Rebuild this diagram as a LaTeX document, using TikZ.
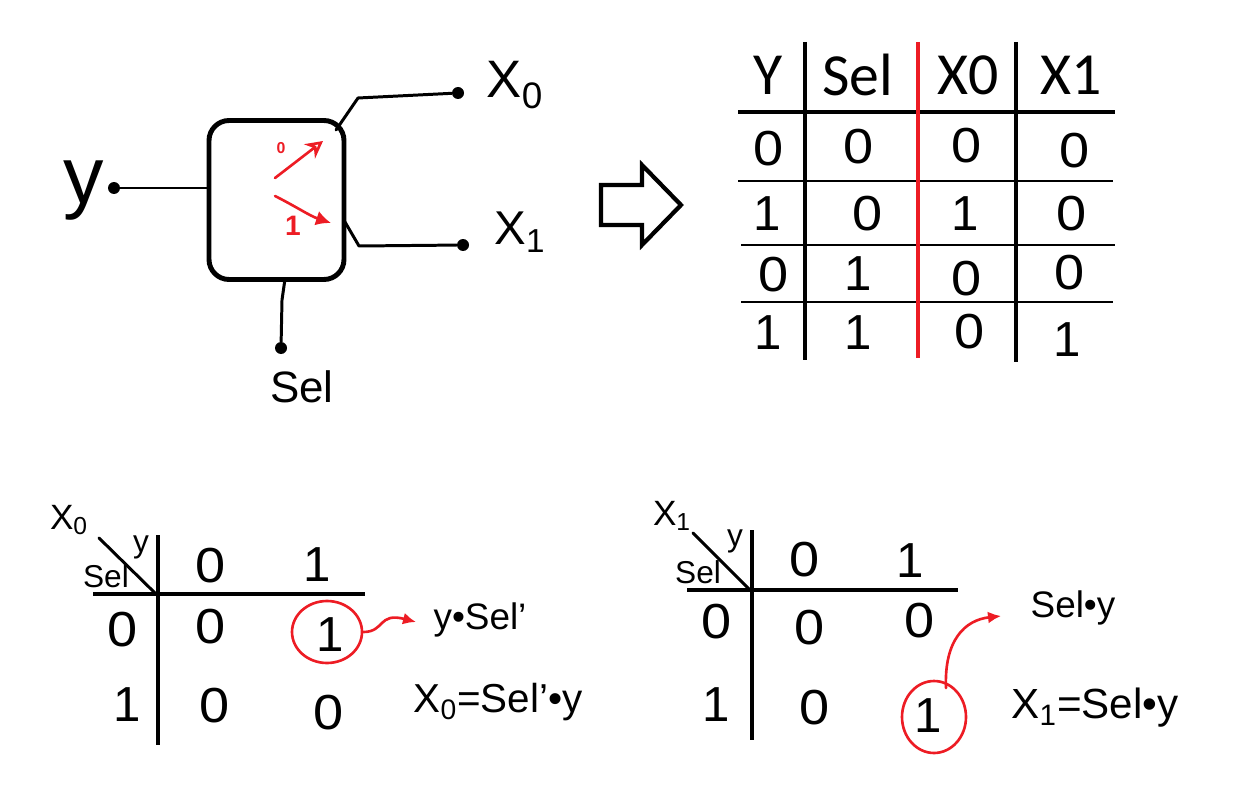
\documentclass[tikz,border=0pt]{standalone}
\usepackage{fontspec}
\setmainfont{Liberation Sans}
\newfontfamily\headfont{Carlito}
\usetikzlibrary{arrows.meta,shapes.geometric}
\definecolor{paintred}{RGB}{237,28,36}
\tikzset{
  thinline/.style={line width=1.7pt,line cap=round,line join=round},
  thickline/.style={line width=2.8pt},
  redline/.style={line width=1.5pt,color=paintred,line cap=round},
  termdot/.style={circle,fill=black,minimum size=0.24cm,inner sep=0pt},
  headtxt/.style={inner sep=0pt,font=\headfont\fontsize{34}{38}\selectfont},
  cellone/.style={inner sep=0pt,font=\fontsize{28}{31}\selectfont},
  cellzero/.style={inner sep=0pt,font=\fontsize{28}{31}\selectfont,xscale=1.1,transform shape},
  biglabel/.style={inner sep=0pt,font=\fontsize{30}{34}\selectfont},
  smalllabel/.style={inner sep=0pt,font=\fontsize{18}{22}\selectfont},
  eqlabel/.style={inner sep=0pt,font=\fontsize{23}{26}\selectfont},
}
\begin{document}
\begin{tikzpicture}[x=0.02cm,y=-0.02cm]
\useasboundingbox (0,0) rectangle (1250,787);

% block with its terminals
\node[draw,line width=2.8pt,rounded corners=0.4cm,minimum width=2.7cm,minimum height=3.18cm,inner sep=0pt] (mux) at (276.5,200) {};
\node[termdot] (ydot) at (114,188) {};
\node[termdot] (xzerodot) at (458,93) {};
\node[termdot] (xonedot) at (463,245) {};
\node[termdot] (seldot) at (281,348) {};
\coordinate (xzerostart) at (336,130);
\coordinate (xzerobend) at (358,98);
\coordinate (xonestart) at (345,222);
\coordinate (xonebend) at (359,246);
\coordinate (selstart) at (285,279);
\coordinate (selbend) at (282,300);
\draw[thinline] (ydot) -- (mux.west |- ydot);
\draw[thinline] (xzerostart) -- (xzerobend) -- (xzerodot);
\draw[thinline] (xonestart) -- (xonebend) -- (xonedot);
\draw[thinline] (selstart) -- (selbend) -- (seldot);
\node[inner sep=0pt,font=\fontsize{46}{50}\selectfont] (ylabel) at (84,191) {y};
\node[biglabel] (xzerolabel) at (515,85) {X\textsubscript{0}};
\node[biglabel,font=\fontsize{27}{30}\selectfont] (xonelabel) at (520,232) {X\textsubscript{1}};
\node[inner sep=0pt,font=\fontsize{25}{28}\selectfont] (sellabel) at (302,387) {Sel};

% switch inside the block
\coordinate (upfrom) at (275,178);
\coordinate (upto) at (323,141);
\coordinate (downfrom) at (275,196);
\coordinate (downto) at (331,223);
\draw[redline,-{Stealth[open,length=0.34cm,width=0.36cm]}] (upfrom) -- (upto);
\draw[redline,-{Latex[length=0.3cm,width=0.3cm]}] (downfrom) .. controls (295,206) and (310,216) .. (downto);
\node[inner sep=0pt,text=paintred,font=\bfseries\fontsize{9}{10}\selectfont] (swzero) at (281,148) {0};
\node[inner sep=0pt,text=paintred,font=\bfseries\fontsize{16}{18}\selectfont] (swone) at (293,226) {1};

% big arrow
\draw[line width=2.4pt,line join=miter] (601,185) -- (642,185) -- (642,165) -- (681,205) -- (642,245) -- (642,225) -- (601,225) -- cycle;

% truth table
\coordinate (ha) at (738,112); \coordinate (hb) at (1115,112);
\coordinate (ra) at (738,181); \coordinate (rb) at (1113,181);
\coordinate (sa) at (741,245); \coordinate (sb) at (1115,245);
\coordinate (ta) at (741,302); \coordinate (tb) at (1113,302);
\coordinate (va) at (805,42); \coordinate (vb) at (805,360);
\coordinate (wa) at (918,42); \coordinate (wb) at (918,358);
\coordinate (za) at (1016,42); \coordinate (zb) at (1016,362);
\draw[thickline] (ha) -- (hb);
\draw[line width=1.5pt] (ra) -- (rb);
\draw[line width=1.5pt] (sa) -- (sb);
\draw[line width=1.5pt] (ta) -- (tb);
\draw[line width=2.3pt] (va) -- (vb);
\draw[line width=2.8pt,color=paintred] (wa) -- (wb);
\draw[line width=2.3pt] (za) -- (zb);
\node[headtxt] (hy) at (768,75) {Y};
\node[headtxt] (hsel) at (858,75) {Sel};
\node[headtxt] (hxzero) at (968,75) {X0};
\node[headtxt] (hxone) at (1071,75) {X1};
\foreach \cx/\cy in {769/149,859/147,967/146,1075/151,868/214,1072/214,774/275,967/279,1070/273,970/332}
  \node[cellzero] (z\cx) at (\cx,\cy) {0};
\foreach \cx/\cy in {767/214,965/214,858/274,768/333,858/333,1067/340}
  \node[cellone] (o\cx\cy) at (\cx,\cy) {1};

% left map
\coordinate (laa) at (99,538); \coordinate (lab) at (156,594);
\coordinate (lha) at (93,594); \coordinate (lhb) at (365,594);
\coordinate (lva) at (158,535); \coordinate (lvb) at (158,745);
\draw[thinline] (laa) -- (lab);
\draw[thickline] (lha) -- (lhb);
\draw[thickline] (lva) -- (lvb);
\node[smalllabel,font=\fontsize{20}{22}\selectfont] (lx) at (69,520) {X\textsubscript{0}};
\node[smalllabel] (ly) at (141,547) {y};
\node[smalllabel] (ls) at (106,576) {Sel};
\foreach \cx/\cy in {211/566,123/630,211/627,215/706,329/713}
  \node[cellzero] (lz\cx) at (\cx,\cy) {0};
\foreach \cx/\cy in {317/565,330/635,127/705}
  \node[cellone] (lo\cx) at (\cx,\cy) {1};
\node[draw=paintred,line width=1.5pt,ellipse,minimum width=1.4cm,minimum height=1.24cm,inner sep=0pt] (lring) at (327,632) {};
\node[inner sep=0pt,font=\fontsize{21}{24}\selectfont] (lterm) at (480,620) {y•Sel'};
\node[eqlabel] (leq) at (498,702) {X\textsubscript{0}=Sel'•y};
\coordinate (ltip) at (416,622);
\draw[redline,-{Latex[length=0.26cm,width=0.24cm]}] (lring.east) .. controls (385,632) and (378,612) .. (ltip);

% right map
\coordinate (raa) at (693,533); \coordinate (rab) at (750,590);
\coordinate (rha) at (687,590); \coordinate (rhb) at (958,590);
\coordinate (rva) at (752,530); \coordinate (rvb) at (752,740);
\draw[thinline] (raa) -- (rab);
\draw[thickline] (rha) -- (rhb);
\draw[thickline] (rva) -- (rvb);
\node[smalllabel,font=\fontsize{20}{22}\selectfont] (rx) at (672,516) {X\textsubscript{1}};
\node[smalllabel] (ry) at (735,541) {y};
\node[smalllabel] (rs) at (698,572) {Sel};
\foreach \cx/\cy in {805/560,717/622,810/628,920/621,815/708}
  \node[cellzero] (rz\cx) at (\cx,\cy) {0};
\foreach \cx/\cy in {910/561,716/705,928/716}
  \node[cellone] (ro\cx) at (\cx,\cy) {1};
\node[draw=paintred,line width=1.5pt,ellipse,minimum width=1.28cm,minimum height=1.44cm,inner sep=0pt] (rring) at (934,717) {};
\node[inner sep=0pt,font=\fontsize{21}{24}\selectfont] (rterm) at (1073,608) {Sel•y};
\node[inner sep=0pt,font=\fontsize{24}{27}\selectfont] (req) at (1095,708) {X\textsubscript{1}=Sel•y};
\coordinate (rfrom) at (946,688);
\coordinate (rtip) at (1001,616);
\draw[redline,-{Latex[length=0.26cm,width=0.24cm]}] (rfrom) .. controls (944,640) and (965,620) .. (rtip);
\end{tikzpicture}
\end{document}
